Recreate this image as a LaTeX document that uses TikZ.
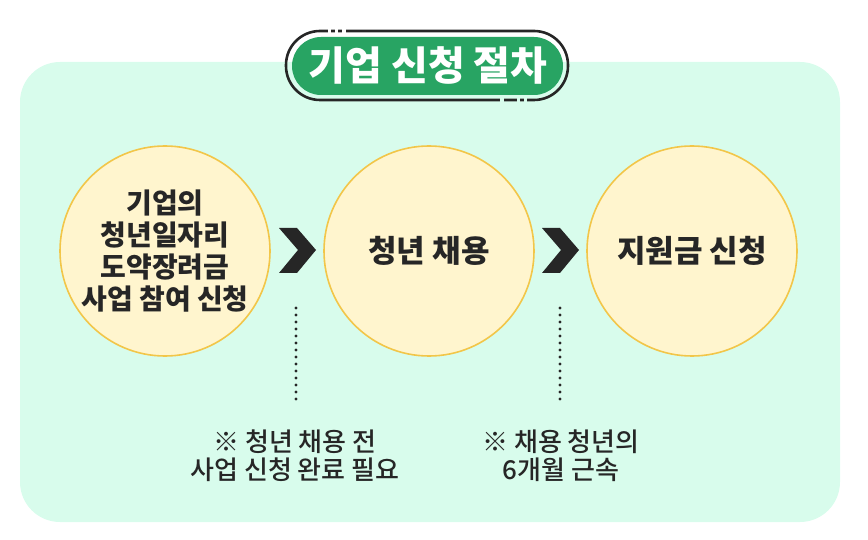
\documentclass[tikz,border=0pt]{standalone}
\usepackage{fontspec}
\newfontfamily\krfont{Noto Sans CJK KR}
\newfontfamily\krmed{Noto Sans CJK KR Medium}
\usepackage{tikz}
\usepackage{xcolor}
\definecolor{panel}{HTML}{D8FCEC}
\definecolor{stagefill}{HTML}{FFF5CE}
\definecolor{ringgold}{HTML}{F2C649}
\definecolor{titlegreen}{HTML}{28A463}
\definecolor{inkdark}{HTML}{262626}
\begin{document}
\begin{tikzpicture}[x=1pt,y=-1pt,thick]
\tikzstyle{stage}=[circle,draw=ringgold,line width=1.6pt,fill=stagefill,minimum size=210pt,inner sep=0pt,align=center,text=inkdark,font=\krfont\bfseries\fontsize{31}{36}\selectfont]
\tikzstyle{note}=[align=center,inner sep=0pt,text=inkdark,font=\krmed\fontsize{26}{28}\selectfont]
\tikzstyle{dots}=[draw=inkdark,line width=3.4pt,line cap=round,dash pattern=on 0pt off 7pt,shorten >=24pt]
\useasboundingbox(0,0)rectangle(868,540);
\fill[panel,rounded corners=40pt](20,62)rectangle(840,522);
% title
\draw[inkdark,line width=2.6pt,rounded corners=34pt](286,31)rectangle(568,100);
\fill[white](328,26)rectangle(331,36);
\fill[white](335,26)rectangle(338,36);
\fill[white](342,26)rectangle(346,36);
\fill[panel](500,95)rectangle(504,105);
\fill[panel](517,95)rectangle(520,105);
\fill[panel](524,95)rectangle(527,105);
\fill[titlegreen,rounded corners=29pt](292,37)rectangle(563,95);
\node(title)at(428,66)[text=white,font=\krfont\bfseries\fontsize{40}{44}\selectfont]{기업 신청 절차};
% stages
\node(stage1)at(165,251)[stage,font=\krfont\bfseries\fontsize{28}{32}\selectfont]{기업의\\청년일자리\\도약장려금\\사업 참여 신청};
\node(stage2)at(429,251)[stage]{청년 채용};
\node(stage3)at(692,251)[stage]{지원금 신청};
\foreach \cx in {297,560}
  \fill[inkdark](\cx-18,228)--(\cx,228)--(\cx+19,250)--(\cx,273)--(\cx-18,273)--(\cx+1,250)--cycle;
% notes
\node(note1)at(295,456)[note]{※ 청년 채용 전\\사업 신청 완료 필요};
\node(note2)at(561,456)[note]{※ 채용 청년의\\6개월 근속};
\coordinate(drop1)at(296,308);
\coordinate(drop2)at(560,308);
\draw[dots](drop1)--(drop1|-note1.north);
\draw[dots](drop2)--(drop2|-note2.north);
\end{tikzpicture}
\end{document}
